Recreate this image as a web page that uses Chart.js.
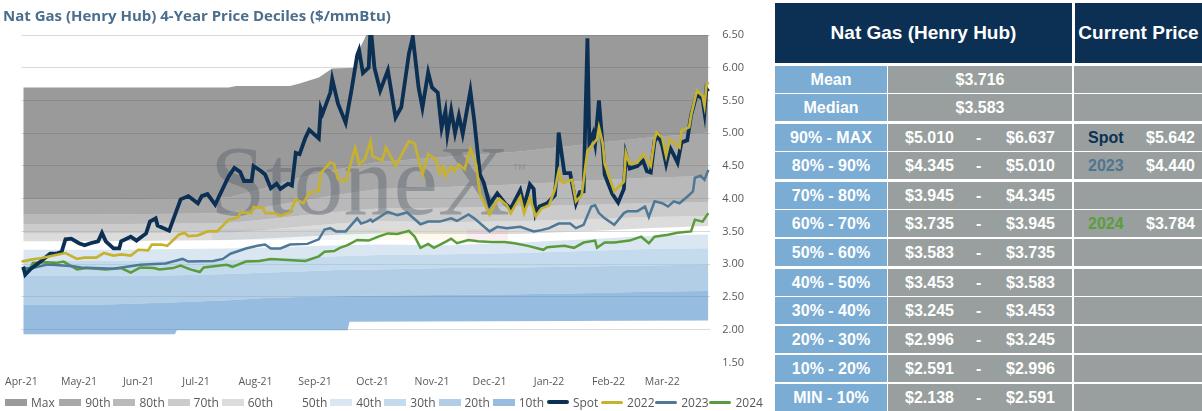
<!DOCTYPE html>
<html>
<head>
<meta charset="utf-8">
<script src="https://cdn.jsdelivr.net/npm/chart.js@4.4.1/dist/chart.umd.min.js"></script>
<style>
  body { margin: 0; background: #fff; width: 1202px; height: 411px; overflow: hidden; position: relative; }
  #title { position: absolute; left: 3px; top: 5px; font: bold 15px "Open Sans", sans-serif; color: #4b6e8c; white-space: nowrap; }
  #chartBox { position: absolute; left: 0; top: 0; width: 770px; height: 411px; }
  #legend { position: absolute; left: 5px; top: 394px; height: 16px; display: flex; font: 12px "Open Sans", sans-serif; color: #595959; }
  #legend .item { width: 54.2px; display: flex; align-items: center; white-space: nowrap; }
  #legend .sw { width: 22px; margin-right: 4px; flex: none; }
  .cell { position: absolute; box-sizing: border-box; color: #fff; font: bold 16px "Liberation Sans", Arial, sans-serif; line-height: 27px; height: 27px; white-space: nowrap; }
  .head { background: #0c3054; font-size: 19px; line-height: 60px; height: 60px; text-align: center; }
  .lab { background: #7aacd4; text-align: center; }
  .mid, .cur { background: #989f9e; }
  .cell span { position: absolute; top: 0; }
</style>
</head>
<body>
<div id="chartBox"><canvas id="chart"></canvas></div>
<div id="title">Nat Gas (Henry Hub) 4-Year Price Deciles ($/mmBtu)</div>
<div id="legend"></div>
<div id="table"></div>
<script>
// x = days since 1-Apr-2021
const monthStarts = [0, 30, 61, 91, 122, 153, 183, 214, 244, 275, 306, 334];
const monthLabels = ['Apr-21', 'May-21', 'Jun-21', 'Jul-21', 'Aug-21', 'Sep-21', 'Oct-21', 'Nov-21', 'Dec-21', 'Jan-22', 'Feb-22', 'Mar-22'];

// decile bands
const bandDays = [1, 40, 82, 108, 125, 145, 165, 186, 222, 260, 300, 326, 358];
const maxBand = [[1, 5.70], [108, 5.70], [112, 5.72], [140, 5.72], [145, 5.76], [155, 5.85], [162, 5.99], [174, 6.00], [175, 6.19], [176, 6.27], [182, 6.637], [358, 6.637]];
const p90 = [3.99, 3.99, 4.00, 4.02, 4.15, 4.32, 4.45, 4.56, 4.64, 4.72, 4.85, 4.93, 5.010];
const p80 = [3.76, 3.76, 3.77, 3.78, 3.86, 3.96, 4.06, 4.15, 4.18, 4.22, 4.28, 4.32, 4.345];
const p70 = [3.61, 3.61, 3.62, 3.63, 3.68, 3.74, 3.80, 3.85, 3.86, 3.88, 3.91, 3.93, 3.945];
const p60 = [3.47, 3.47, 3.48, 3.48, 3.52, 3.57, 3.62, 3.66, 3.64, 3.66, 3.69, 3.72, 3.735];
const p50 = [3.35, 3.35, 3.36, 3.37, 3.39, 3.42, 3.45, 3.47, 3.46, 3.46, 3.51, 3.55, 3.583];
const p40 = [3.22, 3.22, 3.23, 3.24, 3.25, 3.27, 3.29, 3.30, 3.29, 3.33, 3.39, 3.43, 3.453];
const p30 = [3.05, 3.05, 3.06, 3.07, 3.08, 3.10, 3.12, 3.14, 3.15, 3.17, 3.21, 3.23, 3.245];
const p20 = [2.82, 2.82, 2.83, 2.85, 2.87, 2.89, 2.91, 2.92, 2.94, 2.95, 2.97, 2.98, 2.996];
const p10 = [2.38, 2.38, 2.42, 2.45, 2.48, 2.50, 2.51, 2.52, 2.53, 2.54, 2.56, 2.58, 2.591];
const minBand = [[1, 1.93], [80, 1.93], [81, 1.99], [170, 1.99], [171, 2.12], [358, 2.138]];

// price lines [day, $/mmBtu]
const spot = [[1,2.96],[2,2.84],[5,2.93],[10,3.04],[15,3.16],[18,3.16],[21,3.19],[23,3.38],[26,3.39],[30,3.32],[33,3.29],[36,3.32],[40,3.35],[42,3.48],[44,3.35],[48,3.24],[51,3.24],[52,3.35],[57,3.42],[60,3.36],[65,3.47],[67,3.65],[70,3.70],[71,3.59],[77,3.51],[83,3.99],[87,4.04],[92,3.93],[94,4.04],[97,4.07],[101,3.91],[108,4.34],[111,4.47],[114,4.41],[116,4.27],[120,4.27],[121,4.50],[125,4.42],[127,4.37],[130,4.16],[133,4.23],[135,4.15],[139,4.23],[141,4.20],[143,4.70],[145,4.68],[148,4.93],[150,5.05],[155,4.92],[156,5.38],[157,5.30],[161,5.62],[162,5.83],[165,5.45],[169,5.16],[172,5.65],[175,6.19],[176,6.27],[178,5.92],[181,6.00],[182,6.64],[184,6.00],[187,5.65],[191,5.96],[195,5.24],[198,5.40],[202,6.22],[204,6.47],[207,5.70],[209,5.39],[212,5.93],[214,5.70],[217,5.62],[219,5.08],[221,5.34],[222,4.99],[224,5.35],[226,5.00],[228,5.27],[230,4.99],[234,5.65],[236,5.20],[239,4.37],[241,4.24],[244,3.91],[248,4.08],[252,3.93],[255,3.85],[260,4.13],[262,3.88],[265,4.22],[267,4.15],[268,3.76],[270,3.88],[274,3.93],[278,4.05],[279,4.37],[280,5.01],[283,4.39],[286,4.39],[289,3.93],[291,4.10],[293,4.11],[295,6.45],[296,4.85],[298,5.00],[299,4.84],[301,5.50],[303,4.78],[304,4.37],[308,4.07],[311,3.94],[314,4.15],[315,4.68],[317,4.46],[321,4.50],[324,4.58],[326,4.42],[328,4.40],[330,4.88],[332,4.96],[334,4.81],[336,4.53],[338,4.78],[340,4.67],[342,4.55],[344,4.86],[347,4.89],[349,5.27],[352,5.60],[355,5.52],[356,5.32],[357,5.68],[358,5.64]];
const strip2022 = [[0,3.04],[5,3.07],[10,3.09],[18,3.14],[23,3.17],[29,3.08],[33,3.10],[39,3.10],[43,3.17],[48,3.13],[52,3.15],[57,3.13],[61,3.22],[66,3.21],[68,3.30],[73,3.30],[76,3.28],[82,3.45],[85,3.48],[87,3.43],[92,3.44],[97,3.50],[102,3.50],[108,3.68],[113,3.71],[114,3.79],[120,3.78],[121,3.87],[126,3.86],[127,3.78],[132,3.78],[135,3.74],[140,3.79],[143,3.99],[147,3.93],[150,4.09],[155,4.12],[156,4.39],[161,4.55],[163,4.53],[165,4.30],[169,4.26],[171,4.47],[174,4.78],[176,4.53],[179,4.60],[182,4.88],[183,4.65],[188,4.58],[190,4.78],[195,4.50],[202,4.88],[205,4.84],[209,4.37],[212,4.68],[216,4.60],[218,4.39],[220,4.49],[221,4.34],[224,4.49],[226,4.42],[228,4.52],[231,4.45],[234,4.76],[237,4.52],[239,4.07],[244,3.76],[247,3.93],[249,4.00],[253,3.90],[255,3.78],[260,4.03],[262,3.78],[265,4.02],[268,3.73],[271,3.85],[275,3.90],[278,4.14],[280,4.42],[282,4.24],[287,4.29],[289,3.96],[292,4.05],[295,4.73],[300,4.91],[301,5.09],[303,4.84],[304,4.53],[309,4.11],[314,4.26],[315,4.70],[317,4.53],[321,4.55],[324,4.68],[328,4.50],[330,4.91],[331,5.01],[334,4.93],[336,4.65],[338,4.91],[343,4.78],[344,5.04],[348,5.09],[349,5.27],[352,5.65],[355,5.57],[356,5.42],[357,5.73],[358,5.78]];
const strip2023 = [[0,2.93],[7,2.95],[13,2.99],[16,2.99],[27,2.97],[31,2.95],[48,2.93],[62,2.99],[75,3.01],[84,3.08],[87,3.04],[100,3.05],[105,3.08],[109,3.16],[117,3.24],[123,3.28],[127,3.30],[130,3.24],[135,3.24],[140,3.30],[149,3.31],[155,3.38],[158,3.53],[161,3.55],[164,3.50],[169,3.50],[172,3.60],[175,3.70],[177,3.62],[180,3.65],[182,3.68],[183,3.65],[191,3.80],[196,3.75],[201,3.79],[208,3.61],[212,3.65],[218,3.65],[224,3.70],[227,3.66],[233,3.76],[236,3.70],[244,3.50],[248,3.57],[253,3.55],[260,3.57],[267,3.50],[271,3.52],[275,3.55],[280,3.62],[286,3.62],[289,3.55],[293,3.60],[297,3.88],[299,3.90],[301,3.78],[304,3.70],[309,3.60],[314,3.78],[316,3.81],[321,3.81],[325,3.88],[327,3.72],[330,3.96],[334,3.93],[337,3.88],[340,3.96],[343,3.93],[347,4.03],[350,4.11],[351,4.32],[354,4.35],[356,4.29],[358,4.44]];
const strip2024 = [[1,2.96],[4,2.90],[6,3.02],[13,3.03],[18,3.02],[22,3.04],[29,2.92],[34,2.94],[44,2.92],[52,2.94],[57,2.87],[62,2.95],[69,2.94],[72,2.92],[79,2.94],[83,2.98],[88,2.92],[93,2.88],[95,2.95],[107,2.99],[110,2.96],[117,3.04],[124,3.05],[130,3.08],[148,3.05],[155,3.12],[158,3.19],[163,3.20],[166,3.25],[170,3.29],[175,3.37],[181,3.36],[186,3.42],[191,3.47],[196,3.46],[202,3.51],[205,3.42],[208,3.25],[212,3.31],[215,3.25],[221,3.34],[224,3.39],[227,3.32],[233,3.37],[238,3.35],[245,3.34],[252,3.34],[257,3.32],[264,3.28],[272,3.22],[274,3.26],[283,3.28],[288,3.25],[293,3.33],[299,3.36],[300,3.25],[304,3.33],[309,3.33],[317,3.36],[323,3.42],[327,3.32],[330,3.42],[337,3.45],[342,3.48],[349,3.50],[351,3.68],[355,3.65],[358,3.78]];

// table
const rowLabels = ['Mean', 'Median', '90% - MAX', '80% - 90%', '70% - 80%', '60% - 70%', '50% - 60%', '40% - 50%', '30% - 40%', '20% - 30%', '10% - 20%', 'MIN - 10%'];
const meanPrice = 3.716;
const medianPrice = 3.583;
const decileLow = [5.010, 4.345, 3.945, 3.735, 3.583, 3.453, 3.245, 2.996, 2.591, 2.138];
const decileHigh = [6.637, 5.010, 4.345, 3.945, 3.735, 3.583, 3.453, 3.245, 2.996, 2.591];
const currentNames = ['Spot', '2023', '2024'];
const currentPrices = [5.642, 4.440, 3.784];
const currentRows = [2, 3, 5];

const bandColors = ['#9a9a9a', '#a8a8a8', '#b9b9b9', '#cbcbcb', '#dcdcdc', '#ffffff', '#dae7f3', '#c4dbee', '#b1cee6', '#96bddf'];
const ALPHA = 0.58;
// see-through version of a band colour so the gridlines show below it
function seeThrough(hex) {
  if (hex === '#ffffff') return 'rgba(255,255,255,0)';
  const c = [1, 3, 5].map(i => parseInt(hex.substr(i, 2), 16));
  const r = c.map(v => Math.max(0, Math.round((v - 255 * (1 - ALPHA)) / ALPHA)));
  return `rgba(${r[0]},${r[1]},${r[2]},${ALPHA})`;
}

const pts = arr => arr.map(p => ({ x: p[0], y: p[1] }));
const band = vals => bandDays.map((d, i) => ({ x: d, y: vals[i] }));

const bandSets = [
  ['Max', pts(maxBand)], ['90th', band(p90)], ['80th', band(p80)], ['70th', band(p70)], ['60th', band(p60)],
  ['50th', band(p50)], ['40th', band(p40)], ['30th', band(p30)], ['20th', band(p20)], ['10th', band(p10)]
].map(([label, data], i) => ({
  label, data, fill: '+1', backgroundColor: seeThrough(bandColors[i]), legendColor: bandColors[i],
  borderWidth: 0, pointRadius: 0, order: 10
}));

const lineSets = [
  { label: 'Spot', data: pts(spot), borderColor: '#0c3054', borderWidth: 3.8, order: 1 },
  { label: '2022', data: pts(strip2022), borderColor: '#c6b22f', borderWidth: 2.7, order: 0 },
  { label: '2023', data: pts(strip2023), borderColor: '#4e7896', borderWidth: 2.5, order: 2 },
  { label: '2024', data: pts(strip2024), borderColor: '#5a9b3b', borderWidth: 2.5, order: 3 }
].map(d => Object.assign(d, { fill: false, pointRadius: 0, tension: 0 }));

const datasets = bandSets.concat(
  [{ label: 'Min', data: pts(minBand), fill: false, borderWidth: 0, pointRadius: 0, order: 10, hideInLegend: true }],
  lineSets
);

// StoneX watermark goes over the bands but under the price lines
const watermark = {
  id: 'watermark',
  beforeDatasetDraw(chart, args) {
    if (chart.data.datasets[args.index].label !== '2024') return;
    const ctx = chart.ctx;
    ctx.save();
    const strips = [['rgba(120,150,180,0.10)', 212, 340], ['rgba(150,200,140,0.12)', 340, 380], ['rgba(240,220,140,0.16)', 380, 467], ['rgba(230,150,160,0.16)', 467, 508]];
    strips.forEach(([c, a, b]) => { ctx.fillStyle = c; ctx.fillRect(a, 229, b - a, 11); });
    ctx.fillStyle = 'rgba(85,95,104,0.42)';
    ctx.font = '100px "Liberation Serif", serif';
    ctx.fillText('StoneX', 210, 214);
    ctx.font = '15px "Liberation Sans", sans-serif';
    ctx.fillStyle = 'rgba(120,125,130,0.45)';
    ctx.fillText('\u2122', 512, 174);
    ctx.restore();
  }
};

const chart = new Chart(document.getElementById('chart'), {
  type: 'line',
  data: { datasets },
  options: {
    responsive: true,
    maintainAspectRatio: false,
    animation: false,
    layout: { padding: { left: 18, right: 14, top: 35, bottom: 18 } },
    plugins: { legend: { display: false }, tooltip: { enabled: false } },
    elements: { line: { tension: 0 } },
    scales: {
      x: {
        type: 'linear', min: 0, max: 359,
        grid: { display: false }, border: { display: false },
        afterBuildTicks: axis => { axis.ticks = monthStarts.map(v => ({ value: v })); },
        ticks: {
          autoSkip: false, maxRotation: 0, padding: 5, color: '#595959',
          font: { family: 'Open Sans', size: 10.5 },
          callback: v => monthLabels[monthStarts.indexOf(v)]
        }
      },
      y: {
        position: 'right', min: 1.5, max: 6.5,
        grid: { drawTicks: false, color: c => (c.tick && c.tick.value === 1.5) ? 'rgba(0,0,0,0)' : '#d9d9d9' },
        border: { display: false },
        ticks: { stepSize: 0.5, padding: 12, color: '#595959', font: { family: 'Open Sans', size: 11 }, callback: v => v.toFixed(2) }
      }
    }
  },
  plugins: [watermark]
});

// legend
const legend = document.getElementById('legend');
chart.data.datasets.forEach(d => {
  if (d.hideInLegend) return;
  const item = document.createElement('div');
  item.className = 'item';
  const sw = document.createElement('div');
  sw.className = 'sw';
  if (d.legendColor) { sw.style.height = '7px'; sw.style.background = d.legendColor; }
  else { sw.style.height = Math.round(d.borderWidth) + 'px'; sw.style.background = d.borderColor; sw.style.borderRadius = '2px'; }
  item.appendChild(sw);
  item.appendChild(document.createTextNode(d.label));
  legend.appendChild(item);
});

// table
const table = document.getElementById('table');
function cell(cls, left, top, width, html, style) {
  const el = document.createElement('div');
  el.className = 'cell ' + cls;
  el.style.left = left + 'px'; el.style.top = top + 'px'; el.style.width = width + 'px';
  if (style) Object.assign(el.style, style);
  el.innerHTML = html;
  table.appendChild(el);
  return el;
}
const money = v => '$' + v.toFixed(3);
cell('head', 775, 3, 297, 'Nat Gas (Henry Hub)');
cell('head', 1075, 3, 127, 'Current Price');
const rowTops = [66, 94, 124, 152, 182, 210, 239, 269, 297, 326, 355, 384];
const nameColors = { Spot: '#0c3054', '2023': '#4f7592', '2024': '#5a9e3a' };
rowLabels.forEach((lab, i) => {
  const top = rowTops[i];
  cell('lab', 775, top, 112, lab);
  let mid;
  if (i < 2) mid = `<span style="left:0;width:184px;text-align:center">${money(i === 0 ? meanPrice : medianPrice)}</span>`;
  else mid = `<span style="left:17px">${money(decileLow[i - 2])}</span><span style="left:88px">-</span><span style="left:118px">${money(decileHigh[i - 2])}</span>`;
  cell('mid', 888, top, 184, mid);
  const k = currentRows.indexOf(i);
  let cur = '';
  if (k >= 0) cur = `<span style="left:14px;color:${nameColors[currentNames[k]]}">${currentNames[k]}</span><span style="left:72px">${money(currentPrices[k])}</span>`;
  cell('cur', 1074, top, 128, cur);
});
</script>
</body>
</html>
